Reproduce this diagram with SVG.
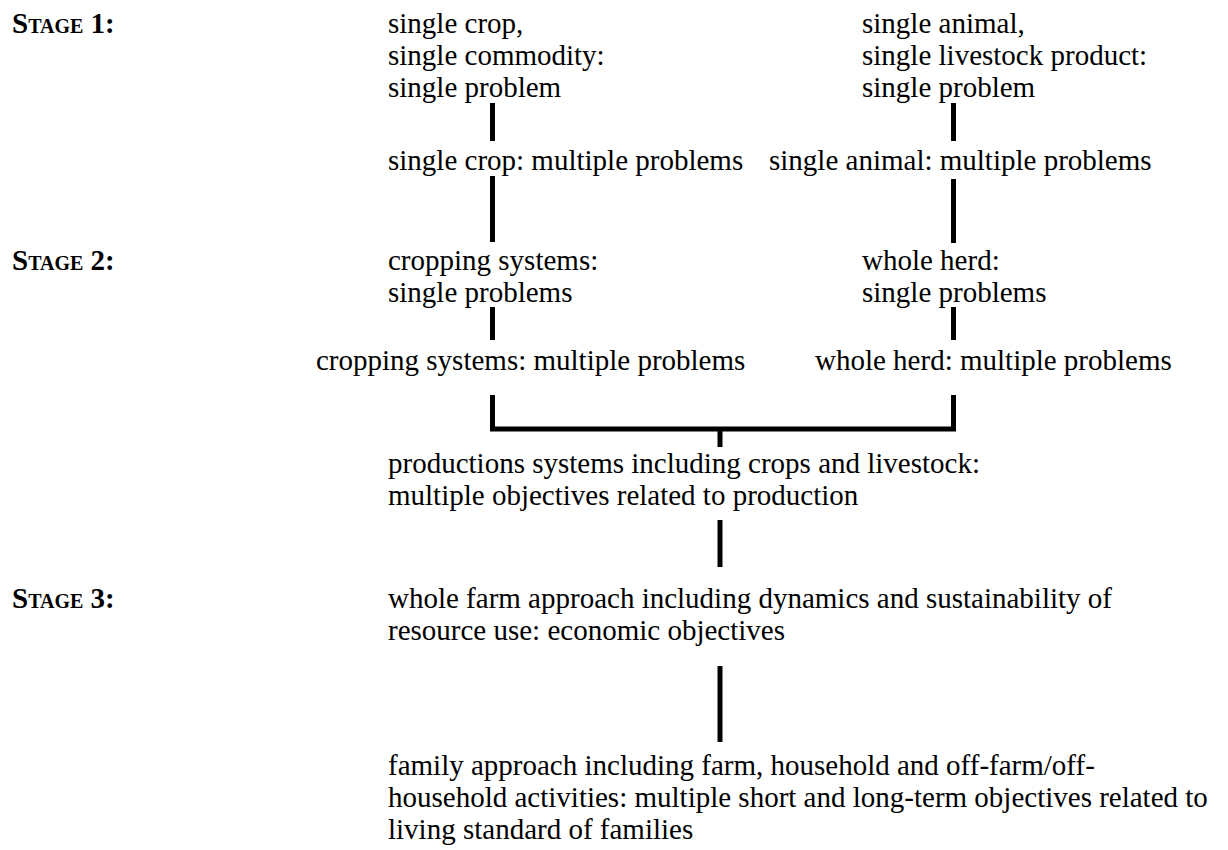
<svg xmlns="http://www.w3.org/2000/svg" width="1228" height="850" viewBox="0 0 1228 850">
<style>
text{font-family:"Liberation Serif","Times New Roman",serif;font-size:29px;fill:#000}
.stage{font-weight:bold;font-variant:small-caps}
.ln{stroke:#000;stroke-width:5;fill:none;stroke-linecap:butt}
</style>
<rect width="1228" height="850" fill="#fff"/>
<g id="stages">
<text class="stage" x="12" y="33">Stage 1:</text>
<text class="stage" x="12" y="270">Stage 2:</text>
<text class="stage" x="12" y="608">Stage 3:</text>
</g>
<g id="n-crop1"><text x="388" y="33">single crop,</text><text x="388" y="65">single commodity:</text><text x="388" y="97">single problem</text></g>
<g id="n-animal1"><text x="862" y="33">single animal,</text><text x="862" y="65">single livestock product:</text><text x="862" y="97">single problem</text></g>
<g id="n-crop2"><text x="388" y="170">single crop: multiple problems</text></g>
<g id="n-animal2"><text x="769" y="170">single animal: multiple problems</text></g>
<g id="n-crop3"><text x="388" y="270">cropping systems:</text><text x="388" y="302">single problems</text></g>
<g id="n-herd1"><text x="862" y="270">whole herd:</text><text x="862" y="302">single problems</text></g>
<g id="n-crop4"><text x="316" y="370">cropping systems: multiple problems</text></g>
<g id="n-herd2"><text x="815" y="370">whole herd: multiple problems</text></g>
<g id="n-prod"><text x="388" y="473">productions systems including crops and livestock:</text><text x="388" y="505">multiple objectives related to production</text></g>
<g id="n-farm"><text x="388" y="608">whole farm approach including dynamics and sustainability of</text><text x="388" y="640">resource use: economic objectives</text></g>
<g id="n-family"><text x="388" y="775">family approach including farm, household and off-farm/off-</text><text x="388" y="807">household activities: multiple short and long-term objectives related to</text><text x="388" y="839">living standard of families</text></g>
<g id="connectors">
<path class="ln" d="M492.5 103V141M492.5 176V242"/>
<path class="ln" d="M953.5 103V141M953.5 179V243"/>
<path class="ln" d="M492.5 307V340M953.5 307V340"/>
<path class="ln" d="M492.5 395V429H953.5V395M720 429V447"/>
<path class="ln" d="M720 520V567"/>
<path class="ln" d="M720 666V742"/>
</g>
</svg>
